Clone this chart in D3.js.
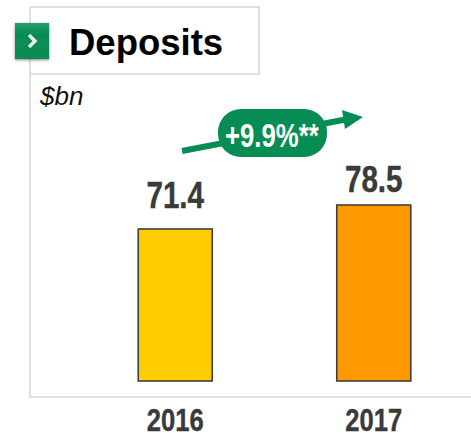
<!DOCTYPE html>
<html>
<head>
<meta charset="utf-8">
<script src="https://cdnjs.cloudflare.com/ajax/libs/d3/7.8.5/d3.min.js"></script>
<style>
  html, body { margin: 0; padding: 0; background: #fff; }
  svg { display: block; }
  text { font-family: "Liberation Sans", Arial, sans-serif; }
</style>
</head>
<body>
<main></main>
<script>
var years = ["2016", "2017"];
var deposits = [71.4, 78.5];
var valueLabels = ["71.4", "78.5"];
var barColors = ["#ffcc00", "#ff9900"];
var growthLabel = "+9.9%**";
var titleText = "Deposits";
var unitText = "$bn";

var w = 471;
var h = 433;
var green = "#068d53";
var frameGrey = "#e0e0e0";
var darkText = "#3a3a3a";

var svg = d3.select("main").append("svg").attr("width", w).attr("height", h);

// shadow and shading for the little green tab
var defs = svg.append("defs");
var shadow = defs.append("filter").attr("id", "tabShadow")
  .attr("x", "-30%").attr("y", "-30%").attr("width", "160%").attr("height", "160%");
shadow.append("feDropShadow")
  .attr("dx", 0).attr("dy", 1)
  .attr("stdDeviation", 1.6)
  .attr("flood-color", "#000")
  .attr("flood-opacity", 0.5);
var tabFill = defs.append("linearGradient").attr("id", "tabFill")
  .attr("x1", 0).attr("y1", 0).attr("x2", 0).attr("y2", 1);
tabFill.append("stop").attr("offset", "0%").attr("stop-color", "#25a06a");
tabFill.append("stop").attr("offset", "30%").attr("stop-color", green);
tabFill.append("stop").attr("offset", "100%").attr("stop-color", "#0a8a55");

// set SCALES (the picture's axis does not start at zero)
var xScale = d3.scaleBand()
  .domain(years)
  .range([76, 473])
  .paddingInner(0.5)
  .paddingOuter(0.25);
// bars are narrower than the band step would give by itself
var barWidth = 74;
var yScale = d3.scaleLinear()
  .domain([26.4, 78.5])
  .range([381, 205]);
function barCentre(d) { return xScale(d) + xScale.bandwidth() / 2; }

// gap between bar top and its label differs in the original
var labelGaps = [21, 13];

// frame lines
svg.append("path")
  .attr("d", "M30,7H259V74H30M30,7V397H471")
  .attr("fill", "none")
  .attr("stroke", frameGrey)
  .attr("stroke-width", 2);

// BARS
svg.selectAll("rect.bar")
  .data(years)
  .enter()
  .append("rect")
  .attr("class", "bar")
  .attr("x", function (d) { return barCentre(d) - barWidth / 2; })
  .attr("y", function (d, i) { return yScale(deposits[i]); })
  .attr("width", barWidth)
  .attr("height", function (d, i) { return yScale.range()[0] - yScale(deposits[i]); })
  .attr("fill", function (d, i) { return barColors[i]; })
  .attr("stroke", "#3f3f3f")
  .attr("stroke-width", 1.6);

// value labels, squeezed a bit like the original
svg.selectAll("text.value")
  .data(years)
  .enter()
  .append("text")
  .attr("class", "value")
  .attr("transform", function (d, i) {
    return "translate(" + barCentre(d) + "," + (yScale(deposits[i]) - labelGaps[i]) + ") scale(0.8,1)";
  })
  .attr("text-anchor", "middle")
  .attr("font-size", "37px")
  .attr("font-weight", "bold")
  .attr("fill", darkText)
  .attr("stroke", darkText)
  .attr("stroke-width", 0.4)
  .text(function (d, i) { return valueLabels[i]; });

// year labels
svg.selectAll("text.year")
  .data(years)
  .enter()
  .append("text")
  .attr("class", "year")
  .attr("transform", function (d) {
    return "translate(" + barCentre(d) + ",431) scale(0.8,1)";
  })
  .attr("text-anchor", "middle")
  .attr("font-size", "32px")
  .attr("font-weight", "bold")
  .attr("fill", darkText)
  .attr("stroke", darkText)
  .attr("stroke-width", 0.4)
  .text(function (d) { return d; });

// growth arrow
svg.append("line")
  .attr("x1", 182).attr("y1", 151)
  .attr("x2", 348).attr("y2", 119)
  .attr("stroke", green)
  .attr("stroke-width", 6);
svg.append("path")
  .attr("d", "M363,117L342,110L345,129Z")
  .attr("fill", green);
svg.append("rect")
  .attr("x", 218).attr("y", 109)
  .attr("width", 109).attr("height", 48)
  .attr("rx", 23)
  .attr("fill", green);
svg.append("text")
  .attr("transform", "translate(225,147) scale(0.78,1)")
  .attr("font-size", "33px")
  .attr("font-weight", "bold")
  .attr("fill", "#fff")
  .text(growthLabel);

// title tab
svg.append("rect")
  .attr("x", 15).attr("y", 23)
  .attr("width", 34).attr("height", 36)
  .attr("fill", "url(#tabFill)")
  .attr("filter", "url(#tabShadow)");
svg.append("path")
  .attr("d", "M29,35L35,41L29,47")
  .attr("fill", "none")
  .attr("stroke", "#e8f5ee")
  .attr("stroke-width", 3.4);

svg.append("text")
  .attr("x", 69).attr("y", 55)
  .attr("font-size", "36.5px")
  .attr("font-weight", "bold")
  .attr("fill", "#000")
  .text(titleText);

svg.append("text")
  .attr("x", 40).attr("y", 105)
  .attr("font-size", "26px")
  .attr("font-style", "italic")
  .attr("fill", "#111")
  .text(unitText);
</script>
</body>
</html>
